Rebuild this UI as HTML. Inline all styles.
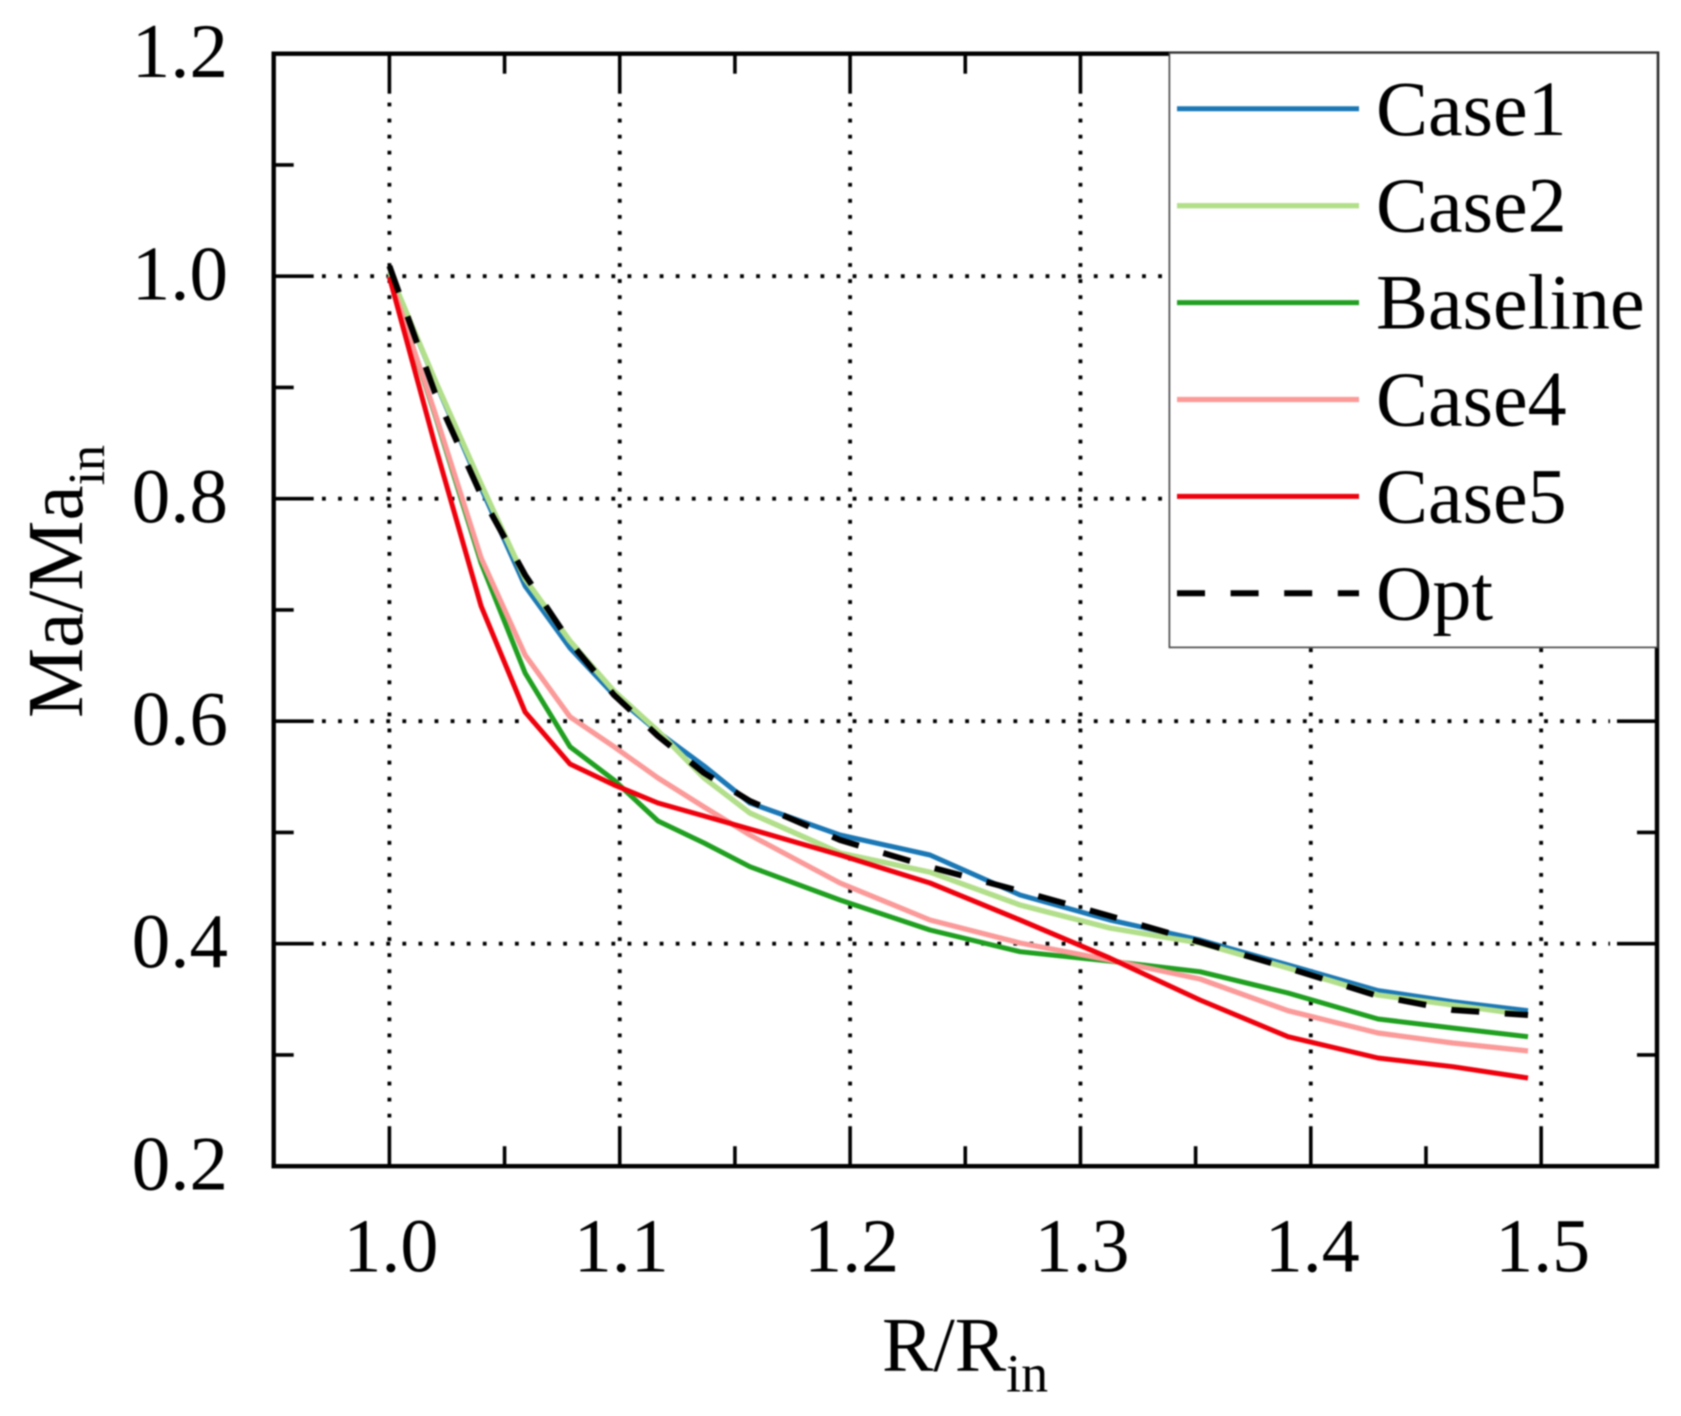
<!DOCTYPE html>
<html lang="en">
<head>
<meta charset="utf-8">
<title>Ma/Ma_in vs R/R_in</title>
<style>
html,body{margin:0;padding:0;background:#fff;width:1681px;height:1416px;overflow:hidden}
svg{display:block;filter:blur(0.8px)}
text{font-family:"Liberation Serif","Times New Roman",serif;fill:#000}
</style>
</head>
<body>
<svg id="chart" xmlns="http://www.w3.org/2000/svg" width="1681" height="1416" viewBox="0 0 1681 1416"></svg>
<script>
const xTickValues = [1.0, 1.1, 1.2, 1.3, 1.4, 1.5];
const xMinorValues = [1.05, 1.15, 1.25, 1.35, 1.45];
const yTickValues = [1.2, 1.0, 0.8, 0.6, 0.4, 0.2];
const yMinorValues = [1.1, 0.9, 0.7, 0.5, 0.3];
const yGridValues = [1.0, 0.8, 0.6, 0.4];
const radius = [1.0, 1.0198, 1.0398, 1.0589, 1.0784, 1.0975, 1.1166, 1.1366, 1.1565, 1.1956, 1.2347, 1.2738, 1.3128, 1.3519, 1.3901, 1.4292, 1.4617, 1.4943];
const case1 = [1.0038, 0.9058, 0.8096, 0.7215, 0.6658, 0.6236, 0.5903, 0.5597, 0.5265, 0.4977, 0.4797, 0.4438, 0.4213, 0.4033, 0.3809, 0.3578, 0.3479, 0.3398];
const case2 = [1.0038, 0.9067, 0.8132, 0.7278, 0.6721, 0.6271, 0.5912, 0.5489, 0.5175, 0.4815, 0.4644, 0.4348, 0.4141, 0.4006, 0.3782, 0.3539, 0.3449, 0.3359];
const baseline = [1.0, 0.8752, 0.7422, 0.6433, 0.5771, 0.5471, 0.5103, 0.4905, 0.4692, 0.4393, 0.4123, 0.3928, 0.3844, 0.3748, 0.3557, 0.3323, 0.3242, 0.3164];
const case4 = [1.0, 0.8770, 0.7467, 0.6595, 0.6040, 0.5771, 0.5489, 0.5229, 0.4977, 0.4546, 0.4213, 0.4006, 0.3853, 0.3683, 0.3398, 0.3197, 0.3107, 0.3036];
const case5 = [0.9993, 0.8483, 0.7035, 0.6083, 0.5615, 0.5427, 0.5265, 0.5148, 0.5031, 0.4797, 0.4546, 0.4213, 0.3871, 0.3494, 0.3164, 0.2973, 0.2894, 0.2793];
const opt = [1.0092, 0.8950, 0.8033, 0.7314, 0.6712, 0.6236, 0.5867, 0.5534, 0.5283, 0.4932, 0.4689, 0.4474, 0.4249, 0.4015, 0.3782, 0.3530, 0.3404, 0.3359];

const NS = 'http://www.w3.org/2000/svg';
const svg = document.getElementById('chart');
const left = 273.7, right = 1657, top_ = 53.7, bottom = 1166.2;
function xScale(v) { return 389.4 + (v - 1) * 2303.5; }
function yScale(v) { return bottom - (v - 0.2) * 1112.5; }
function make(tag, attrs, parent) {
  const el = document.createElementNS(NS, tag);
  for (const k in attrs) el.setAttribute(k, attrs[k]);
  (parent || svg).appendChild(el);
  return el;
}

const gridGroup = make('g', {});


xTickValues.forEach(function (v) {
  const line = make('line', {x1: xScale(v), x2: xScale(v), y1: 102.6, y2: 1120, stroke: '#000', 'stroke-width': 3.8, 'stroke-dasharray': '3.8 12.25'}, gridGroup);
  
  
});
yGridValues.forEach(function (v) {
  const line = make('line', {x1: 322, x2: 1610, y1: yScale(v), y2: yScale(v), stroke: '#000', 'stroke-width': 3.8, 'stroke-dasharray': '3.8 12.28'}, gridGroup);
  
  
});

const seriesList = [
  {values: case1, color: '#1a78b6', width: 5, name: 'series-case1'},
  {values: case2, color: '#b2df8a', width: 5.4, name: 'series-case2'},
  {values: baseline, color: '#1fa01f', width: 5, name: 'series-baseline'},
  {values: case4, color: '#fb9a99', width: 5.2, name: 'series-case4'},
  {values: case5, color: '#f0000c', width: 5, name: 'series-case5'},
  {values: opt, color: '#000', width: 6, dash: '28 25.6', name: 'series-opt'}
];
seriesList.forEach(function (s) {
  const pts = s.values.map(function (v, i) { return xScale(radius[i]).toFixed(1) + ',' + yScale(v).toFixed(1); }).join(' ');
  const line = make('polyline', {points: pts, fill: 'none', stroke: s.color, 'stroke-width': s.width, 'stroke-linejoin': 'round'});
  if (s.dash) line.setAttribute('stroke-dasharray', s.dash);
  
  
});

const axisGroup = make('g', {stroke: '#000', fill: 'none'});


const frame = make('rect', {x: left, y: top_, width: right - left, height: bottom - top_, 'stroke-width': 4.4}, axisGroup);


function xTick(v, len, name) {
  const a = make('line', {x1: xScale(v), x2: xScale(v), y1: bottom, y2: bottom - len, 'stroke-width': 3.6}, axisGroup);
  
  
  const b = make('line', {x1: xScale(v), x2: xScale(v), y1: top_, y2: top_ + len, 'stroke-width': 3.6}, axisGroup);
  
  
}
function yTick(v, len, name) {
  const a = make('line', {x1: left, x2: left + len, y1: yScale(v), y2: yScale(v), 'stroke-width': 3.6}, axisGroup);
  
  
  const b = make('line', {x1: right, x2: right - len, y1: yScale(v), y2: yScale(v), 'stroke-width': 3.6}, axisGroup);
  
  
}
xTickValues.forEach(function (v) { xTick(v, 40, 'x-major-tick'); });
xMinorValues.forEach(function (v) { xTick(v, 20, 'x-minor-tick'); });
yTickValues.forEach(function (v) { if (v < 1.2 && v > 0.2) yTick(v, 40, 'y-major-tick'); });
yMinorValues.forEach(function (v) { yTick(v, 20, 'y-minor-tick'); });

xTickValues.forEach(function (v) {
  const t = make('text', {x: xScale(v) + 1.5, y: 1271.4, 'font-size': 76, 'text-anchor': 'middle'});
  t.textContent = v.toFixed(1);
  
  
});
yTickValues.forEach(function (v) {
  const t = make('text', {x: 228, y: yScale(v) + 23.5, 'font-size': 77, 'text-anchor': 'end'});
  t.textContent = v.toFixed(1);
  
  
});

const legend = make('g', {});


const legendBox = make('rect', {x: 1169.4, y: 53, width: 488, height: 594.4, fill: '#fff', stroke: '#444', 'stroke-width': 1.6}, legend);


const legendLabels = ['Case1', 'Case2', 'Baseline', 'Case4', 'Case5', 'Opt'];
legendLabels.forEach(function (label, i) {
  const s = seriesList[i];
  const yPos = 108.8 + i * 96.9;
  const swatch = make('line', {x1: 1177, x2: 1359, y1: yPos, y2: yPos, stroke: s.color, 'stroke-width': s.width});
  if (s.dash) swatch.setAttribute('stroke-dasharray', s.dash);
  legend.appendChild(swatch);
  
  
  const t = make('text', {x: 1376, y: yPos + 26, 'font-size': 78}, legend);
  t.textContent = label;
  
  
});
</script>
<script>
(function () {
  const svgEl = document.getElementById('chart');
  const xTitle = document.createElementNS('http://www.w3.org/2000/svg', 'text');
  xTitle.setAttribute('x', '882');
  xTitle.setAttribute('y', '1370.7');
  xTitle.setAttribute('font-size', '77');
  
  
  xTitle.innerHTML = 'R/R<tspan font-size="54" dy="21">in</tspan>';
  svgEl.appendChild(xTitle);
  const yTitle = document.createElementNS('http://www.w3.org/2000/svg', 'text');
  yTitle.setAttribute('transform', 'translate(82 718) rotate(-90)');
  yTitle.setAttribute('font-size', '79');
  
  
  yTitle.innerHTML = 'Ma/Ma<tspan font-size="52" dy="22">in</tspan>';
  svgEl.appendChild(yTitle);
})();
</script>
</body>
</html>
